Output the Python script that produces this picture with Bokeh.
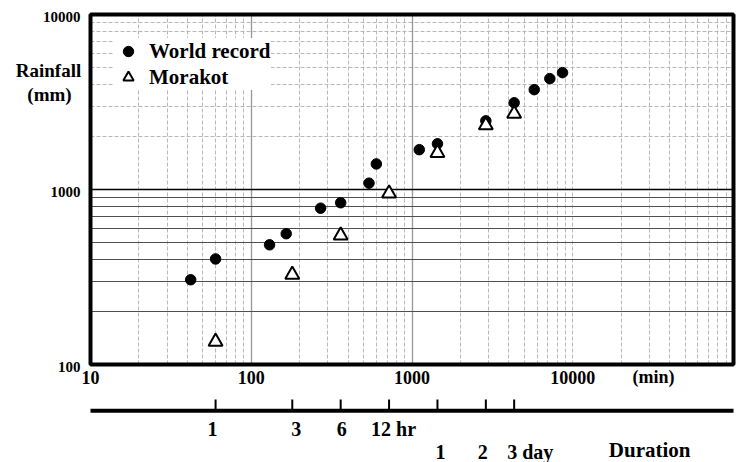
from bokeh.plotting import figure
from bokeh.models import (FixedTicker, Grid, Legend, LegendItem, BoxAnnotation, Range1d)
from bokeh.embed import file_html
from bokeh.resources import INLINE
from bokeh.core.properties import value

# ---------------- data ----------------
wr_duration_min = [42, 60, 130, 165, 270, 360, 540, 600, 1110, 1440, 2880, 4320, 5760, 7200, 8640]
wr_rain_mm = [305, 401, 483, 559, 782, 840, 1087, 1400, 1689, 1825, 2467, 3130, 3721, 4301, 4653]

mk_duration_min = [60, 180, 360, 720, 1440, 2880, 4320]
mk_rain_mm = [135, 326, 547, 950, 1620, 2330, 2710]

x_min, x_max = 10, 100000          # duration axis (min), log
y_min, y_max = 100, 10000          # rainfall axis (mm), log
x_ticks = [10, 100, 1000, 10000]
y_ticks = [100, 1000, 10000]

x_minor_grid = [20, 30, 40, 50, 60, 70, 80, 90,
                200, 300, 400, 500, 600, 700, 800, 900,
                2000, 3000, 4000, 5000, 6000, 7000, 8000, 9000,
                10000, 20000, 30000, 40000, 50000, 60000, 70000, 80000, 90000]
x_decade_grid = [100, 1000]
y_upper_grid = [2000, 3000, 4000, 5000, 6000, 7000, 8000, 9000]
y_lower_grid = [200, 300, 400, 500, 600, 700, 800, 900]
y_main_grid = [1000]

duration_ticks = [60, 180, 360, 720, 1440, 2880, 4320]
hour_ticks = [60, 180, 360, 720]
hour_labels = ["1", "3", "6", "12 hr"]
day_ticks = [1440, 2880, 4320]
day_labels = ["1", "2", "3 day"]

# label nudges (style only, px)
hour_label_dx = [-8, -1, -4, -18]
day_label_dx = [-2, -8, -7]

FONT = "Liberation Serif"

# ---------------- layout geometry (pixels of the 737x462 canvas) ----------------
W, H = 737, 462
FX0, FX1 = 90, 733        # frame left / right
FY0, FY1 = 14, 364        # frame top / bottom
KX = (FX1 - FX0) / 4.0    # px per decade, x
KY = (FY1 - FY0) / 2.0    # px per decade, y


def xd(px):
    return 10 ** (1 + (px - FX0) / KX)


def yd(py):
    return 10 ** (2 + (FY1 - py) / KY)


p = figure(width=W, height=H, x_axis_type="log", y_axis_type="log",
           x_range=Range1d(xd(0), xd(W)), y_range=Range1d(yd(H), yd(0)),
           x_axis_location=None, y_axis_location=None,
           output_backend="svg", toolbar_location=None,
           min_border_left=0, min_border_right=0, min_border_top=0, min_border_bottom=0)
p.outline_line_color = None
p.background_fill_color = "white"
p.border_fill_color = "white"
for g in p.grid:
    g.visible = False

# grids, limited to the chart box
p.add_layout(Grid(dimension=0, ticker=FixedTicker(ticks=x_minor_grid), cross_bounds=(y_min, y_max),
                  grid_line_color="#b8b8b8", grid_line_dash="4 2", grid_line_width=1), "center")
p.add_layout(Grid(dimension=1, ticker=FixedTicker(ticks=y_upper_grid), cross_bounds=(x_min, x_max),
                  grid_line_color="#b8b8b8", grid_line_dash="4 2", grid_line_width=1), "center")
p.add_layout(Grid(dimension=0, ticker=FixedTicker(ticks=x_decade_grid), cross_bounds=(y_min, y_max),
                  grid_line_color="#333333", grid_line_dash="1 1", grid_line_width=1.3), "center")
p.add_layout(Grid(dimension=1, ticker=FixedTicker(ticks=y_lower_grid), cross_bounds=(x_min, x_max),
                  grid_line_color="#505050", grid_line_width=1.2), "center")
p.add_layout(Grid(dimension=1, ticker=FixedTicker(ticks=y_main_grid), cross_bounds=(x_min, x_max),
                  grid_line_color="black", grid_line_width=1.6), "center")

# data markers
r_wr = p.scatter(wr_duration_min, wr_rain_mm, marker="circle", size=10.5,
                 fill_color="black", line_color="black", line_width=1)
r_mk = p.scatter(mk_duration_min, mk_rain_mm, marker="triangle", size=14,
                 fill_color="white", line_color="black", line_width=2)

# chart box border
p.add_layout(BoxAnnotation(left=x_min, right=x_max, bottom=y_min, top=y_max,
                           fill_color=None, fill_alpha=0, line_color="black",
                           line_alpha=1.0, line_width=4))

legend = Legend(items=[LegendItem(label="World record", renderers=[r_wr]),
                       LegendItem(label="Morakot", renderers=[r_mk])],
                location=(113, H - 20 - 70), padding=9, spacing=0, margin=0,
                glyph_width=30, glyph_height=26, label_standoff=6,
                label_text_font=FONT, label_text_font_style="bold",
                label_text_font_size="21px", label_text_color="black",
                background_fill_color="white", background_fill_alpha=1.0,
                border_line_color=None)
p.add_layout(legend)

txt = dict(text_font=value(FONT), text_font_style="bold", text_color="black",
           text_baseline="middle")

# axis tick labels
p.text(x=x_ticks, y=yd(376.5), text=[str(v) for v in x_ticks], text_align="center",
       text_font_size="18px", **txt)
p.text(x=[xd(653)], y=[yd(376.5)], text=["(min)"], text_align="center",
       text_font_size="18px", **txt)
p.text(x=xd(80), y=y_ticks, text=[str(v) for v in y_ticks], text_align="right",
       y_offset=2, text_font_size="15px", **txt)

# y title
p.text(x=[xd(48)], y=[yd(69.5)], text=["Rainfall"], text_align="center",
       text_font_size="19px", **txt)
p.text(x=[xd(49)], y=[yd(93.5)], text=["(mm)"], text_align="center",
       text_font_size="19px", **txt)

# duration scale
p.segment(x0=[x_min], x1=[x_max], y0=yd(410.3), y1=yd(410.3),
          line_color="black", line_width=4)
p.segment(x0=duration_ticks, x1=duration_ticks, y0=yd(410), y1=yd(399),
          line_color="black", line_width=2)
p.text(x=hour_ticks, y=yd(428.3), text=hour_labels, x_offset=hour_label_dx,
       text_align="left", text_font_size="20px", **txt)
p.text(x=day_ticks, y=yd(451.5), text=day_labels, x_offset=day_label_dx,
       text_align="left", text_font_size="20px", **txt)
p.text(x=[xd(608.3)], y=[yd(449.6)], text=["Duration"], text_align="left",
       text_font_size="21px", **txt)

open("out.html", "w").write(file_html(p, INLINE))
